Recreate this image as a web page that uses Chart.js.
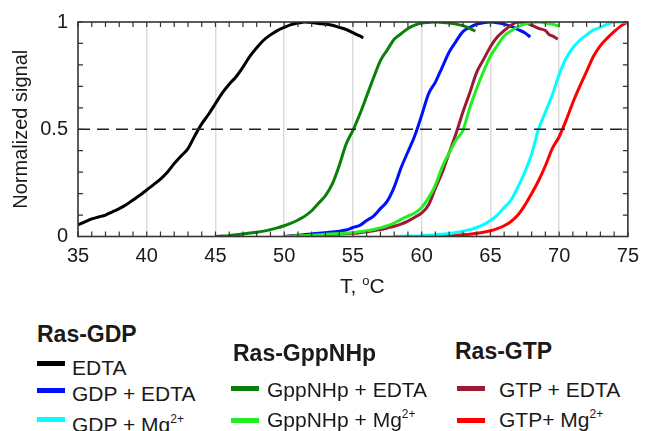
<!DOCTYPE html>
<html>
<head>
<meta charset="utf-8">
<script src="https://cdn.jsdelivr.net/npm/chart.js@4.4.0/dist/chart.umd.min.js"></script>
<style>
  html, body { margin: 0; padding: 0; background: #fff; width: 647px; height: 431px; overflow: hidden; }
  body { position: relative; font-family: "Liberation Sans", Arial, Helvetica, sans-serif; color: #1a1a1a; }
  #c { position: absolute; left: 0; top: 0; }
  .t { position: absolute; font-size: 21px; line-height: 21px; white-space: nowrap; }
  .h { position: absolute; font-size: 23px; line-height: 23px; font-weight: bold; white-space: nowrap; }
  .sw { position: absolute; width: 28px; height: 5px; }
  sup { font-size: 12px; line-height: 0; vertical-align: 9px; }
  .xt { position: absolute; font-size: 21px; line-height: 21px; white-space: nowrap; }
  .xt sup { font-size: 13px; vertical-align: 8px; }
</style>
</head>
<body>
<canvas id="c" width="647" height="310"></canvas>

<div class="xt" style="left:340px; top:275px;">T, <sup>o</sup>C</div>

<div class="h" style="left:37px; top:323px;">Ras-GDP</div>
<div class="sw" style="left:37px; top:361px; background:#000000;"></div>
<div class="t" style="left:72px; top:357px;">EDTA</div>
<div class="sw" style="left:37px; top:388px; background:#0010ff;"></div>
<div class="t" style="left:72px; top:383px;">GDP + EDTA</div>
<div class="sw" style="left:37px; top:417px; background:#00ffff;"></div>
<div class="t" style="left:72px; top:414px;">GDP + Mg<sup>2+</sup></div>

<div class="h" style="left:233px; top:342px;">Ras-GppNHp</div>
<div class="sw" style="left:231px; top:386px; background:#0a800a;"></div>
<div class="t" style="left:267px; top:379px;">GppNHp + EDTA</div>
<div class="sw" style="left:231px; top:418px; background:#22ee22;"></div>
<div class="t" style="left:267px; top:409px;">GppNHp + Mg<sup>2+</sup></div>

<div class="h" style="left:455px; top:340px;">Ras-GTP</div>
<div class="sw" style="left:457px; top:386px; background:#9b1b35;"></div>
<div class="t" style="left:499px; top:379px;">GTP + EDTA</div>
<div class="sw" style="left:457px; top:418px; background:#ff0000;"></div>
<div class="t" style="left:499px; top:409px;">GTP+ Mg<sup>2+</sup></div>

<script>
// ---- data ----
const xTicks = [35, 40, 45, 50, 55, 60, 65, 70, 75];
const yTicks = [0, 0.5, 1];

const edtaT = [35, 35.5, 36, 36.5, 37, 37.5, 38, 38.5, 39, 39.5, 40, 40.5, 41, 41.5, 42, 42.5, 43, 43.5, 44, 44.5, 45, 45.5, 46, 46.5, 47, 47.5, 48, 48.5, 49, 49.5, 50, 50.5, 51, 51.5, 52, 52.5, 53, 53.5, 54, 54.5, 55, 55.5, 55.75];
const edtaV = [0.054, 0.068, 0.082, 0.091, 0.10, 0.115, 0.13, 0.148, 0.17, 0.192, 0.217, 0.242, 0.268, 0.30, 0.34, 0.375, 0.41, 0.47, 0.525, 0.57, 0.62, 0.67, 0.71, 0.745, 0.79, 0.84, 0.88, 0.915, 0.94, 0.96, 0.975, 0.988, 0.995, 1.0, 0.998, 0.993, 0.99, 0.985, 0.975, 0.965, 0.95, 0.935, 0.926];

const gdpEdtaT = [50, 50.5, 51, 51.5, 52, 52.5, 53, 53.5, 54, 54.5, 55, 55.5, 56, 56.5, 57, 57.5, 58, 58.5, 59, 59.5, 60, 60.5, 61, 61.5, 62, 62.5, 63, 63.5, 64, 64.5, 65, 65.5, 66, 66.5, 67, 67.5, 67.9];
const gdpEdtaV = [0, 0.003, 0.006, 0.009, 0.012, 0.015, 0.018, 0.021, 0.024, 0.03, 0.042, 0.052, 0.075, 0.095, 0.13, 0.165, 0.23, 0.32, 0.395, 0.47, 0.565, 0.665, 0.72, 0.79, 0.86, 0.91, 0.955, 0.975, 0.99, 0.997, 1.0, 0.997, 0.99, 0.98, 0.965, 0.95, 0.93];

const gdpMgT = [58, 59, 60, 60.5, 61, 61.5, 62, 62.5, 63, 63.5, 64, 64.5, 65, 65.5, 66, 66.5, 67, 67.5, 68, 68.5, 69, 69.5, 70, 70.5, 71, 71.5, 72, 72.5, 73, 73.5, 74, 74.5, 75];
const gdpMgV = [0, 0.002, 0.004, 0.006, 0.008, 0.011, 0.014, 0.019, 0.025, 0.032, 0.042, 0.055, 0.075, 0.1, 0.135, 0.17, 0.23, 0.3, 0.385, 0.5, 0.58, 0.66, 0.755, 0.83, 0.88, 0.915, 0.94, 0.963, 0.975, 0.99, 1.0, 1.0, 1.0];

const gppEdtaT = [45, 45.5, 46, 46.5, 47, 47.5, 48, 48.5, 49, 49.5, 50, 50.5, 51, 51.5, 52, 52.5, 53, 53.5, 54, 54.5, 55, 55.5, 56, 56.5, 57, 57.5, 58, 58.5, 59, 59.5, 60, 60.5, 61, 61.5, 62, 62.5, 63, 63.5, 63.9];
const gppEdtaV = [0, 0.002, 0.004, 0.008, 0.012, 0.016, 0.02, 0.025, 0.032, 0.04, 0.05, 0.062, 0.077, 0.095, 0.12, 0.155, 0.19, 0.245, 0.33, 0.43, 0.495, 0.57, 0.655, 0.74, 0.82, 0.87, 0.92, 0.945, 0.97, 0.985, 0.995, 0.998, 1.0, 0.998, 0.995, 0.99, 0.983, 0.97, 0.957];

const gppMgT = [50, 51, 52, 53, 54, 55, 55.5, 56, 56.5, 57, 57.5, 58, 58.5, 59, 59.5, 60, 60.5, 61, 61.5, 62, 62.5, 63, 63.5, 64, 64.5, 65, 65.5, 66, 66.5, 67, 67.5, 68, 68.5, 69, 69.5, 70];
const gppMgV = [0, 0.003, 0.006, 0.01, 0.014, 0.018, 0.022, 0.027, 0.033, 0.04, 0.05, 0.062, 0.08, 0.095, 0.11, 0.135, 0.18, 0.24, 0.325, 0.39, 0.45, 0.495, 0.6, 0.69, 0.77, 0.84, 0.89, 0.935, 0.958, 0.978, 0.99, 0.998, 1.0, 0.995, 0.99, 0.98];

const gtpEdtaT = [50, 51, 52, 53, 54, 55, 55.5, 56, 56.5, 57, 57.5, 58, 58.5, 59, 59.5, 60, 60.5, 61, 61.5, 62, 62.5, 63, 63.5, 64, 64.5, 65, 65.5, 66, 66.5, 67, 67.6, 68, 68.5, 69, 69.3, 69.5, 69.9];
const gtpEdtaV = [0, 0.003, 0.005, 0.009, 0.012, 0.015, 0.018, 0.022, 0.027, 0.032, 0.04, 0.048, 0.058, 0.072, 0.09, 0.11, 0.147, 0.225, 0.3, 0.39, 0.48, 0.58, 0.67, 0.765, 0.825, 0.885, 0.93, 0.96, 0.985, 1.0, 0.995, 0.985, 0.97, 0.96, 0.94, 0.935, 0.92];

const gtpMgT = [60, 61, 62, 63, 63.5, 64, 64.5, 65, 65.5, 66, 66.5, 67, 67.5, 68, 68.5, 69, 69.5, 70, 70.5, 71, 71.5, 72, 72.5, 73, 73.5, 74, 74.5, 75];
const gtpMgV = [0, 0.002, 0.004, 0.008, 0.011, 0.015, 0.02, 0.027, 0.037, 0.05, 0.07, 0.1, 0.145, 0.2, 0.26, 0.33, 0.41, 0.465, 0.54, 0.625, 0.7, 0.77, 0.84, 0.89, 0.925, 0.955, 0.982, 1.0];

const halfLineT = [35, 75];
const halfLineV = [0.5, 0.5];

function pts(t, v) { return t.map((x, i) => ({ x: x, y: v[i] })); }

function series(label, t, v, color) {
  return { label: label, data: pts(t, v), borderColor: color, backgroundColor: color,
           borderWidth: 3, pointRadius: 0, cubicInterpolationMode: 'monotone', fill: false };
}

const innerTicks = {
  id: 'innerTicks',
  afterDraw(chart) {
    const { ctx, chartArea: a, scales } = chart;
    const xs = scales.x, ys = scales.y;
    ctx.save();
    ctx.strokeStyle = '#333';
    ctx.lineWidth = 1.2;
    ctx.beginPath();
    for (let t = 35; t <= 75; t++) {
      const px = xs.getPixelForValue(t);
      ctx.moveTo(px, a.bottom); ctx.lineTo(px, a.bottom - 5);
      ctx.moveTo(px, a.top); ctx.lineTo(px, a.top + 5);
    }
    for (let k = 0; k <= 10; k++) {
      const py = ys.getPixelForValue(k / 10);
      ctx.moveTo(a.left, py); ctx.lineTo(a.left + 5, py);
      ctx.moveTo(a.right, py); ctx.lineTo(a.right - 5, py);
    }
    ctx.stroke();
    ctx.lineWidth = 1.6;
    ctx.strokeRect(a.left, a.top, a.right - a.left, a.bottom - a.top);
    ctx.restore();
  }
};

new Chart(document.getElementById('c'), {
  type: 'line',
  data: {
    datasets: [
      { label: 'half', data: pts(halfLineT, halfLineV), borderColor: '#222', borderWidth: 1.5,
        borderDash: [12, 7], pointRadius: 0, fill: false },
      series('EDTA', edtaT, edtaV, '#000000'),
      series('GppNHp + EDTA', gppEdtaT, gppEdtaV, '#0a800a'),
      series('GppNHp + Mg2+', gppMgT, gppMgV, '#22ee22'),
      series('GTP + EDTA', gtpEdtaT, gtpEdtaV, '#9b1b35'),
      series('GDP + EDTA', gdpEdtaT, gdpEdtaV, '#0010ff'),
      series('GDP + Mg2+', gdpMgT, gdpMgV, '#00ffff'),
      series('GTP+ Mg2+', gtpMgT, gtpMgV, '#ff0000')
    ]
  },
  options: {
    responsive: false,
    animation: false,
    devicePixelRatio: 1,
    layout: { padding: { top: 22, right: 16, bottom: 0, left: 0 } },
    plugins: { legend: { display: false }, tooltip: { enabled: false } },
    scales: {
      x: {
        type: 'linear', min: 35, max: 75,
        afterBuildTicks(s) { s.ticks = xTicks.map(v => ({ value: v })); },
        afterFit(s) { s.height = 73.5; },
        ticks: { font: { family: 'Liberation Sans', size: 20 }, color: '#1a1a1a', padding: 8, maxRotation: 0,
                 callback: v => String(v) },
        grid: { drawTicks: false, lineWidth: 1.5,
                color: c => (c.tick && c.tick.value > 35 && c.tick.value < 75) ? '#dcdcdc' : 'rgba(0,0,0,0)' },
        border: { display: false }
      },
      y: {
        type: 'linear', min: 0, max: 1,
        afterBuildTicks(s) { s.ticks = yTicks.map(v => ({ value: v })); },
        afterFit(s) { s.width = 78; },
        ticks: { font: { family: 'Liberation Sans', size: 20 }, color: '#1a1a1a', padding: 10,
                 callback: v => String(v) },
        grid: { display: false, drawTicks: false },
        border: { display: false },
        title: { display: true, text: 'Normalized signal', font: { family: 'Liberation Sans', size: 20 }, color: '#1a1a1a',
                 padding: { top: 9, bottom: 0 } }
      }
    }
  },
  plugins: [innerTicks]
});
</script>
</body>
</html>
